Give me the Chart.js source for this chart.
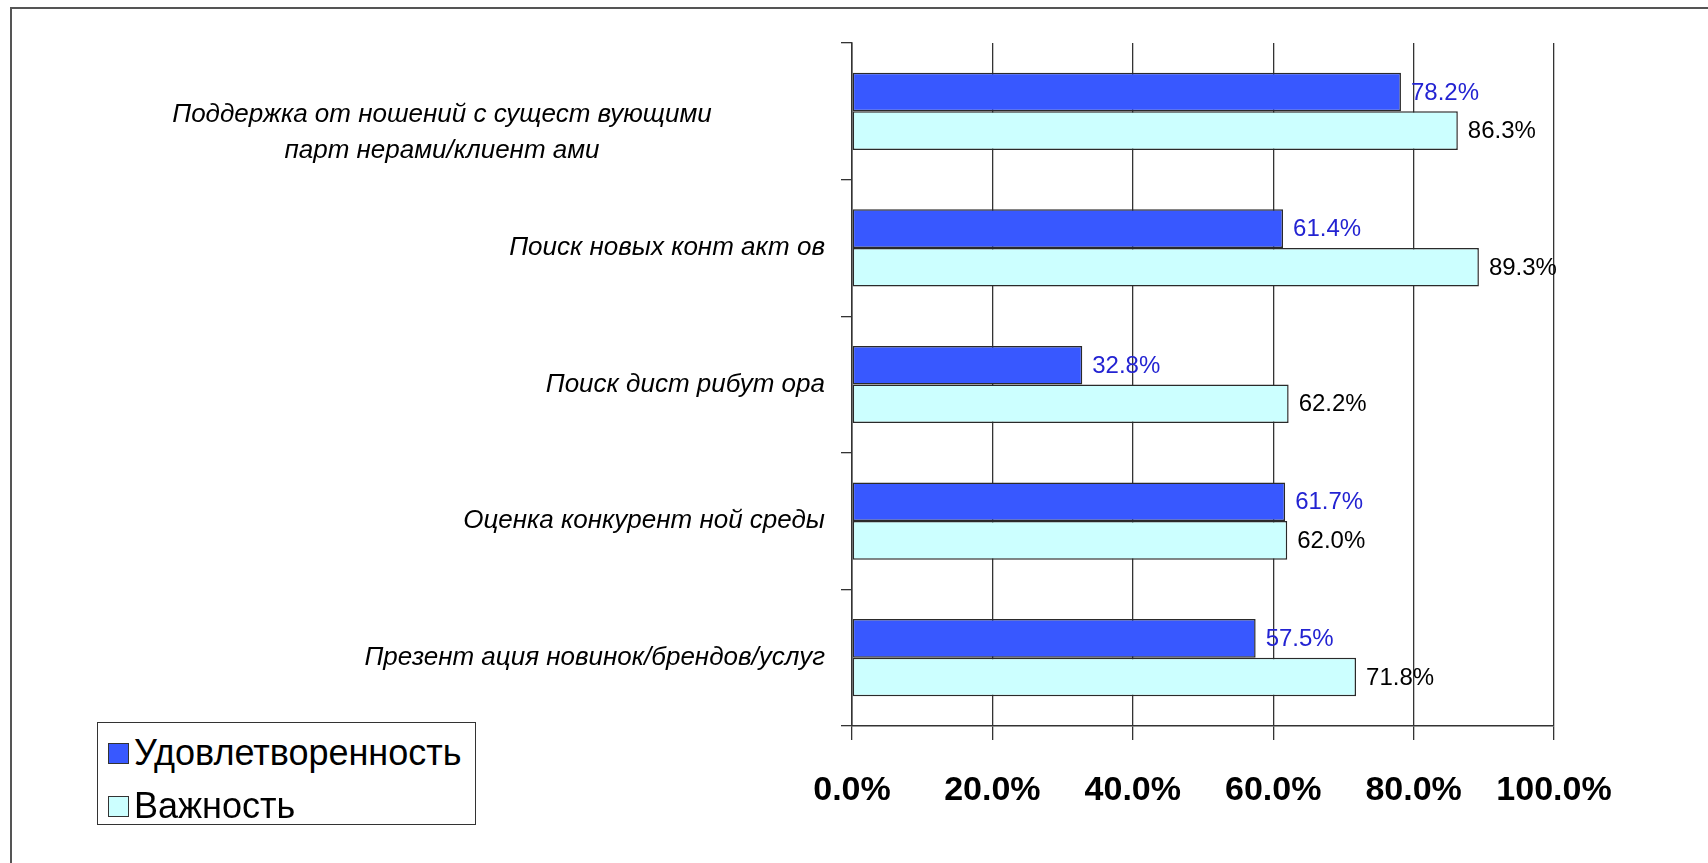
<!doctype html>
<html lang="ru">
  <head>
    <meta charset="utf-8">
    <title>Удовлетворенность и важность</title>
    <style>
      * {
        margin: 0;
        padding: 0;
      }
      body {
        width: 1708px;
        height: 863px;
        overflow: hidden;
        background: white;
        font-family: "Liberation Sans", Arial, sans-serif;
      }
      .frame {
        position: absolute;
        left: 10px;
        top: 7px;
        width: 1720px;
        height: 900px;
        border-top: 2px solid #555;
        border-left: 2px solid #555;
      }
      .chartBox {
        position: absolute;
        left: 0;
        top: 0;
        width: 1708px;
        height: 863px;
      }
      #legend {
        position: absolute;
        left: 97px;
        top: 722px;
        width: 377px;
        height: 101px;
        border: 1.5px solid #333;
        background: white;
      }
      .item {
        position: absolute;
        left: 10px;
        height: 40px;
        display: flex;
        align-items: center;
        font-size: 36px;
        color: #000;
        white-space: nowrap;
      }
      .item span.box {
        display: inline-block;
        width: 19px;
        height: 19px;
        border: 1px solid #333;
        margin-right: 5px;
      }
    </style>
  </head>
  <body>
    <div class="frame"></div>
    <div class="chartBox">
      <canvas id="myChart" width="1708" height="863"></canvas>
    </div>
    <div id="legend"></div>
    <script src="https://cdn.jsdelivr.net/npm/chart.js/dist/chart.umd.min.js"></script>
    <script>
    // data
    const categories = [
      ['Поддержка от ношений с сущест вующими', 'парт нерами/клиент ами'],
      'Поиск новых конт акт ов',
      'Поиск дист рибут ора',
      'Оценка конкурент ной среды',
      'Презент ация новинок/брендов/услуг'
    ];
    const seriesNames = ['Удовлетворенность', 'Важность'];
    const satisfaction = [78.2, 61.4, 32.8, 61.7, 57.5];
    const importance = [86.3, 89.3, 62.2, 62.0, 71.8];
    const xTicks = [0, 20, 40, 60, 80, 100];

    const barColors = ['#3858FF', '#CCFFFF'];
    const valueColors = ['#2323D2', '#000000'];

    // draws the category labels (wrapped one is centred like in Excel)
    const categoryLabels = {
      id: 'categoryLabels',
      afterDraw(chart) {
        const ctx = chart.ctx;
        const y = chart.scales.y;
        ctx.save();
        ctx.fillStyle = '#000';
        ctx.font = 'italic 26px "Liberation Sans", sans-serif';
        ctx.textBaseline = 'middle';
        categories.forEach((lab, i) => {
          const cy = y.getPixelForValue(i);
          if (Array.isArray(lab)) {
            ctx.textAlign = 'center';
            lab.forEach((line, k) => {
              ctx.fillText(line, y.right - 410, cy + 3 + k * 36);
            });
          } else {
            ctx.textAlign = 'right';
            ctx.fillText(lab, y.right - 27, cy);
          }
        });
        ctx.restore();
      }
    };

    // value labels at the end of each bar
    const valueLabels = {
      id: 'valueLabels',
      afterDatasetsDraw(chart) {
        const ctx = chart.ctx;
        ctx.save();
        ctx.font = '24px "Liberation Sans", sans-serif';
        ctx.textAlign = 'left';
        ctx.textBaseline = 'middle';
        chart.data.datasets.forEach((ds, d) => {
          ctx.fillStyle = valueColors[d];
          chart.getDatasetMeta(d).data.forEach((bar, i) => {
            ctx.fillText(ds.data[i].toFixed(1) + '%', bar.x + 10, bar.y + 1);
          });
        });
        ctx.restore();
      }
    };

    // setup
    const data = {
      labels: categories,
      datasets: [{
        label: seriesNames[0],
        data: satisfaction,
        backgroundColor: barColors[0],
        borderColor: '#2a2a2a',
        borderWidth: 1.5,
        borderSkipped: false
      }, {
        label: seriesNames[1],
        data: importance,
        backgroundColor: barColors[1],
        borderColor: '#2a2a2a',
        borderWidth: 1.5,
        borderSkipped: false
      }]
    };

    // config
    const config = {
      type: 'bar',
      data,
      plugins: [categoryLabels, valueLabels],
      options: {
        indexAxis: 'y',
        responsive: false,
        animation: false,
        categoryPercentage: 0.565,
        barPercentage: 1.0,
        layout: {
          padding: { top: 43, right: 154, left: 0, bottom: 0 }
        },
        scales: {
          x: {
            min: 0,
            max: 100,
            afterBuildTicks(scale) {
              scale.ticks = xTicks.map(v => ({ value: v }));
            },
            afterFit(scale) {
              scale.height = 137;
            },
            grid: {
              color: '#333',
              lineWidth: 1.3,
              tickLength: 14
            },
            border: { color: '#333', width: 1.5 },
            ticks: {
              color: '#000',
              padding: 30,
              maxRotation: 0,
              font: { family: '"Liberation Sans", sans-serif', size: 34, weight: 'bold' },
              callback: v => v.toFixed(1) + '%'
            }
          },
          y: {
            afterFit(scale) {
              scale.width = 852;
            },
            grid: {
              drawOnChartArea: false,
              color: '#333',
              lineWidth: 1.3,
              tickLength: 11
            },
            border: { color: '#333', width: 1.5 },
            ticks: { display: false }
          }
        },
        plugins: {
          legend: { display: false },
          tooltip: { enabled: false }
        }
      }
    };

    // render init block
    const myChart = new Chart(document.getElementById('myChart'), config);

    // html legend built from the datasets
    const legend = document.getElementById('legend');
    myChart.data.datasets.forEach((ds, i) => {
      const div = document.createElement('div');
      div.className = 'item';
      div.style.top = (10 + i * 53) + 'px';
      div.innerHTML = '<span class="box" style="background:' + ds.backgroundColor + '"></span>' + ds.label;
      legend.appendChild(div);
    });
    </script>
  </body>
</html>
